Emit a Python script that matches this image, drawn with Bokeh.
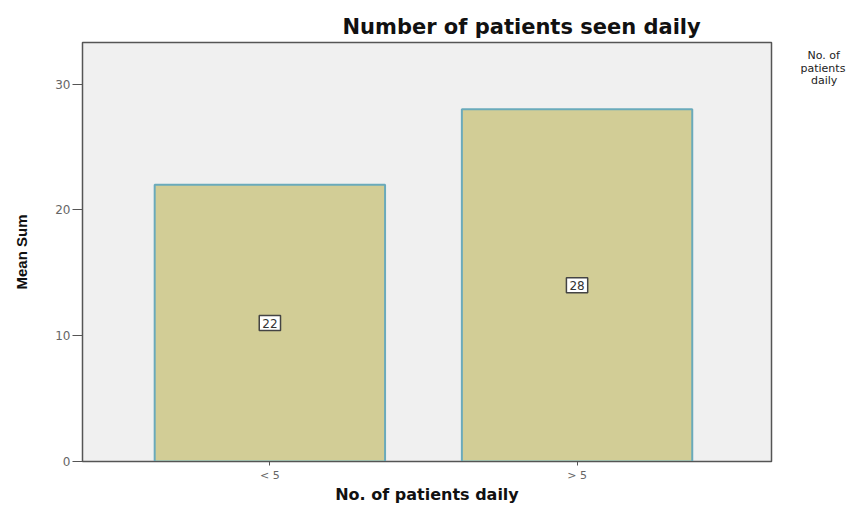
from bokeh.plotting import figure
from bokeh.models import ColumnDataSource, Label, Range1d, FixedTicker, LinearAxis
from bokeh.embed import file_html
from bokeh.resources import INLINE

categories = ["< 5", "> 5"]
mean_sum = [22, 28]
label_text = ["22", "28"]
y_ticks = [0, 10, 20, 30]
legend_title_lines = ["\u00a0\u00a0No. of", "patients", "\u00a0\u00a0\u00a0daily"]
legend_title_pos = [32.3, 31.25, 30.25]

xs = list(range(len(categories)))
src = ColumnDataSource(dict(x=xs, top=mean_sum))

p = figure(width=848, height=506, output_backend="svg", toolbar_location=None,
           x_range=Range1d(-0.61, 1.633), y_range=Range1d(0, 33.3),
           min_border_left=82, min_border_right=76, min_border_top=42, min_border_bottom=38)
p.background_fill_color = "#f0f0f0"
p.border_fill_color = "white"
p.outline_line_color = "#555555"
p.outline_line_width = 1.5
p.grid.visible = False

p.vbar(x="x", top="top", width=0.75, source=src, fill_color="#d2cd96",
       line_color="#6aaabb", line_width=2)

for xv, v, t in zip(xs, mean_sum, label_text):
    p.add_layout(Label(x=xv, y=v / 2, text=t, text_align="center",
                       text_baseline="middle", text_font_size="12px", text_font="DejaVu Sans",
                       text_color="#333333", background_fill_color="white",
                       border_line_color="#444444", border_line_width=1.5, padding=3))

p.title.text = "Number of patients seen daily"
p.title.align = "left"
p.title.offset = 260
p.title.text_font = "DejaVu Sans"
p.title.text_font_size = "21px"
p.title.text_font_style = "bold"
p.title.text_color = "#111111"
p.title.standoff = 8

p.yaxis.ticker = FixedTicker(ticks=y_ticks)
p.yaxis.minor_tick_line_color = None
p.yaxis.major_tick_out = 10
p.yaxis.major_tick_in = 0
p.yaxis.axis_line_color = "#555555"
p.yaxis.major_tick_line_color = "#555555"
p.yaxis.major_label_standoff = 2
p.yaxis.major_label_text_font = "DejaVu Sans"
p.yaxis.major_label_text_font_size = "12px"
p.yaxis.major_label_text_color = "#666666"
p.yaxis.axis_label = "Mean Sum"
p.yaxis.axis_label_text_font = "Liberation Sans"
p.yaxis.axis_label_text_font_size = "15px"
p.yaxis.axis_label_text_font_style = "bold"
p.yaxis.axis_label_text_color = "#111111"
p.yaxis.axis_label_standoff = 22

p.xaxis.ticker = FixedTicker(ticks=xs)
p.xaxis.major_label_overrides = {i: c for i, c in zip(xs, categories)}
p.xaxis.minor_tick_line_color = None
p.xaxis.major_tick_out = 4
p.xaxis.major_tick_in = 0
p.xaxis.axis_line_color = "#555555"
p.xaxis.major_tick_line_color = "#555555"
p.xaxis.major_label_text_font = "DejaVu Sans"
p.xaxis.major_label_text_font_size = "11px"
p.xaxis.major_label_text_color = "#666666"
p.xaxis.major_label_standoff = 3
p.xaxis.axis_label = "No. of patients daily"
p.xaxis.axis_label_text_font = "DejaVu Sans"
p.xaxis.axis_label_text_font_size = "16px"
p.xaxis.axis_label_text_font_style = "bold"
p.xaxis.axis_label_text_color = "#111111"
p.xaxis.axis_label_standoff = 0

leg_axis = LinearAxis(ticker=FixedTicker(ticks=legend_title_pos),
                      major_label_overrides={k: t for k, t in zip(legend_title_pos, legend_title_lines)},
                      axis_line_color=None, major_tick_line_color=None, minor_tick_line_color=None,
                      major_tick_out=0, major_tick_in=0, major_label_standoff=29,
                      major_label_text_font="DejaVu Sans", major_label_text_font_size="11px",
                      major_label_text_color="#222222")
p.add_layout(leg_axis, "right")

open("out.html", "w").write(file_html(p, INLINE))
